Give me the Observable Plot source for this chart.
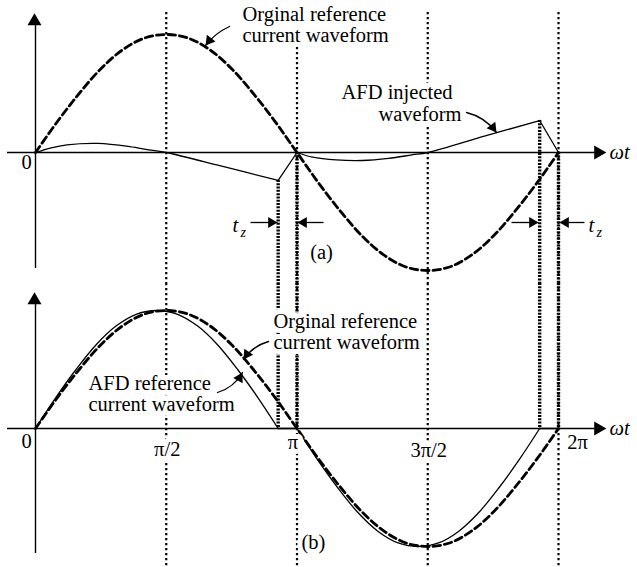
<!DOCTYPE html>
<html>
<head>
<meta charset="utf-8">
<script src="https://cdn.jsdelivr.net/npm/d3@7"></script>
<script src="https://cdn.jsdelivr.net/npm/@observablehq/plot@0.6"></script>
<style>
  body { margin: 0; background: #fff; }
  #chart svg { display: block; }
</style>
</head>
<body>
<div id="chart"></div>
<script>
// ---------------- data (x in units of π, y normalised amplitude) ----------------
const origX = [0, 0.083, 0.167, 0.25, 0.333, 0.417, 0.5, 0.583, 0.667, 0.75, 0.833, 0.917, 1,
               1.083, 1.167, 1.25, 1.333, 1.417, 1.5, 1.583, 1.667, 1.75, 1.833, 1.917, 2];
const origY = [0, 0.26, 0.5, 0.71, 0.87, 0.97, 1, 0.97, 0.87, 0.71, 0.5, 0.26, 0,
               -0.26, -0.5, -0.71, -0.87, -0.97, -1, -0.97, -0.87, -0.71, -0.5, -0.26, 0];

// AFD reference current waveform (panel b)
const afdX = [0, 0.077, 0.155, 0.232, 0.309, 0.387, 0.464, 0.541, 0.619, 0.696, 0.773, 0.851, 0.928, 1,
              1.077, 1.155, 1.232, 1.309, 1.387, 1.464, 1.541, 1.619, 1.696, 1.773, 1.851, 1.928, 2];
const afdY = [0, 0.26, 0.5, 0.71, 0.87, 0.97, 1, 0.97, 0.87, 0.71, 0.5, 0.26, 0, 0,
              -0.26, -0.5, -0.71, -0.87, -0.97, -1, -0.97, -0.87, -0.71, -0.5, -0.26, 0, 0];

// AFD injected waveform (panel a)
const injX = [0, 0.06, 0.12, 0.24, 0.36, 0.44, 0.5, 0.72, 0.928, 1,
              1.06, 1.15, 1.25, 1.35, 1.44, 1.5, 1.72, 1.928, 2];
const injY = [0, 0.04, 0.065, 0.077, 0.05, 0.02, 0, -0.12, -0.237, 0,
              -0.04, -0.063, -0.068, -0.05, -0.02, 0, 0.14, 0.271, 0];

const kinkX  = [0.928, 1, 1.928];          // corners of the AFD waveforms
const tzX    = [0.928, 1, 1.928, 2];       // dead-zone (t_z) boundaries
const guideX = [0.5, 1, 1.5, 2];           // dotted guides
const tickVals = [0, 0.5, 1, 1.5, 2];
const tickText = ["0", "π/2", "π", "3π/2", "2π"];

// ---------------- layout ----------------
const W = 637, X0 = 35, PX_PER_PI = 261.5, PX_PER_UNIT = 118;
const xDomain = [-X0 / PX_PER_PI, (W - X0) / PX_PER_PI];
const A = {top: 0, height: 283, zero: 152};
const B = {top: 283, height: 284, zero: 428};
const ux = px => (px - X0) / PX_PER_PI;
const vy = (P, py) => (P.zero - py) / PX_PER_UNIT;
const yDom = P => [vy(P, P.top + P.height), vy(P, P.top)];
const FONT = "'Liberation Serif', 'Times New Roman', serif";
const FS = 20.5;
const AXIS_TIP = 606;

const tickDx = [-9, 1, -4, 1, 19];
const tickDy = [19, 27, 20, 28, 20];

function seriesRows(xs, ys, kinks) {
  const rows = []; let seg = 0;
  xs.forEach((x, i) => {
    rows.push({x, y: ys[i], seg});
    if (kinks.some(k => Math.abs(k - x) < 1e-9)) { seg += 1; rows.push({x, y: ys[i], seg}); }
  });
  return rows;
}
const origRows = seriesRows(origX, origY, []);
const afdRows = seriesRows(afdX, afdY, kinkX);
const injRows = seriesRows(injX, injY, kinkX);

function headAt(P, tipX, tipY, ang, r) {
  const k = Math.sqrt(r * r * Math.PI / (3 * Math.sqrt(3)));
  const a = ang * Math.PI / 180;
  return {x: ux(tipX - 2 * k * Math.cos(a)), y: vy(P, tipY - 2 * k * Math.sin(a)), rotate: ang + 90};
}

function labelMark(P, items, extra = {}) {
  return Plot.text(items.map(d => ({x: ux(d.px), y: vy(P, d.py), text: d.t})), {
    x: "x", y: "y", text: "text", lineAnchor: "bottom", lineHeight: 1,
    fontFamily: FONT, fontSize: FS, fill: "black",
    stroke: "white", strokeWidth: 10, strokeLinejoin: "round", paintOrder: "stroke",
    ...extra
  });
}

function pointerMarks(P, list) {
  const marks = [];
  const heads = [];
  for (const d of list) {
    marks.push(Plot.arrow([{x1: ux(d.x1), y1: vy(P, d.y1), x2: ux(d.x2), y2: vy(P, d.y2)}], {
      x1: "x1", y1: "y1", x2: "x2", y2: "y2", bend: d.bend, headLength: 0,
      stroke: "black", strokeWidth: 1.3
    }));
    const ang = Math.atan2(d.y2 - d.y1, d.x2 - d.x1) * 180 / Math.PI + d.bend;
    heads.push(headAt(P, d.x2, d.y2, ang, 4));
  }
  marks.push(Plot.dot(heads, {x: "x", y: "y", rotate: "rotate", r: 4, symbol: "triangle", fill: "black"}));
  return marks;
}

function axisMarks(P, yBottom, yTip) {
  return [
    Plot.ruleY([0], {x1: ux(7), x2: ux(AXIS_TIP - 10), stroke: "black", strokeWidth: 1.4}),
    Plot.ruleX([0], {y1: vy(P, yBottom), y2: vy(P, yTip + 8), stroke: "black", strokeWidth: 1.4}),
    Plot.dot([headAt(P, AXIS_TIP, P.zero, 0, 5.3), headAt(P, X0 - 1, yTip, -90, 5)],
      {x: "x", y: "y", rotate: "rotate", r: 5.2, symbol: "triangle", fill: "black"})
  ];
}

const common = {
  width: W, margin: 0,
  x: {domain: xDomain, axis: null},
  style: {background: "white", overflow: "visible", fontFamily: FONT}
};

const guideStyle = {stroke: "black", strokeWidth: 2.2, strokeDasharray: "2.2,2.8"};
const tzStyle = {stroke: "black", strokeWidth: 3.4, strokeDasharray: "2,1.3"};

// ---------------- panel (a) ----------------
const tzStart = tzX.map(x => injY[injX.findIndex(v => Math.abs(v - x) < 1e-9)]);
const yA = 222;
const tzArrows = [{x1: 250, x2: 277}, {x1: 323, x2: 297}, {x1: 511, x2: 538}, {x1: 584, x2: 559}];

const plotA = Plot.plot({
  ...common,
  height: A.height,
  y: {domain: yDom(A), axis: null},
  marks: [
    Plot.ruleX(guideX, {y1: vy(A, 12), y2: yDom(A)[0], ...guideStyle}),
    Plot.ruleX(tzX.map((x, i) => ({x, y1: tzStart[i]})), {x: "x", y1: "y1", y2: yDom(A)[0], ...tzStyle}),
    Plot.line(origRows, {x: "x", y: "y", z: "seg", curve: "catmull-rom", stroke: "black", strokeWidth: 2.8, strokeDasharray: "7.5,4"}),
    Plot.line(injRows, {x: "x", y: "y", z: "seg", curve: "catmull-rom", stroke: "black", strokeWidth: 1.3}),
    labelMark(A, [
      {t: "Orginal reference\ncurrent waveform", px: 242, py: 41},
      {t: "AFD injected", px: 341, py: 98}
    ], {textAnchor: "start"}),
    labelMark(A, [{t: "waveform", px: 461, py: 120}], {textAnchor: "end"}),
    labelMark(A, [{t: "(a)", px: 321, py: 258}, {t: tickText[0], px: X0 + tickDx[0], py: A.zero + 16}], {textAnchor: "middle"}),
    labelMark(A, [{t: "t", px: 232, py: 231}, {t: "t", px: 588, py: 231}, {t: "ωt", px: AXIS_TIP + 3, py: 158}],
      {textAnchor: "start", fontStyle: "italic"}),
    labelMark(A, [{t: "z", px: 240, py: 236}, {t: "z", px: 596, py: 236}],
      {textAnchor: "start", fontStyle: "italic", fontSize: 14, strokeWidth: 4}),
    ...axisMarks(A, 268, 13),
    Plot.link(tzArrows.map(d => ({x1: ux(d.x1), x2: ux(d.x2), y: vy(A, yA)})),
      {x1: "x1", x2: "x2", y1: "y", y2: "y", stroke: "black", strokeWidth: 1.3}),
    Plot.dot(tzArrows.map(d => headAt(A, d.x2, yA, d.x2 > d.x1 ? 0 : 180, 4)),
      {x: "x", y: "y", rotate: "rotate", r: 4, symbol: "triangle", fill: "black"}),
    ...pointerMarks(A, [
      {x1: 229, y1: 26, x2: 205, y2: 45, bend: -14},
      {x1: 466, y1: 112, x2: 496, y2: 132, bend: 20}
    ])
  ]
});

// ---------------- panel (b) ----------------
const plotB = Plot.plot({
  ...common,
  height: B.height,
  y: {domain: yDom(B), axis: null},
  marks: [
    Plot.ruleX(guideX, {y1: yDom(B)[1], y2: yDom(B)[0], ...guideStyle}),
    Plot.ruleX(tzX, {y1: yDom(B)[1], y2: 0, ...tzStyle}),
    Plot.line(afdRows, {x: "x", y: "y", z: "seg", curve: "catmull-rom", stroke: "black", strokeWidth: 1.3}),
    Plot.line(origRows, {x: "x", y: "y", z: "seg", curve: "catmull-rom", stroke: "black", strokeWidth: 2.8, strokeDasharray: "7.5,4"}),
    labelMark(B, [
      {t: "Orginal reference\ncurrent waveform", px: 273, py: 348},
      {t: "AFD reference\ncurrent waveform", px: 88, py: 410}
    ], {textAnchor: "start"}),
    labelMark(B, [{t: "(b)", px: 313, py: 548}], {textAnchor: "middle"}),
    ...tickVals.map((v, i) => labelMark(B,
      [{t: tickText[i], px: X0 + v * PX_PER_PI + tickDx[i], py: B.zero + tickDy[i]}], {textAnchor: "middle"})),
    labelMark(B, [{t: "ωt", px: AXIS_TIP + 3, py: 434}], {textAnchor: "start", fontStyle: "italic"}),
    ...axisMarks(B, 553, 292),
    ...pointerMarks(B, [
      {x1: 268, y1: 341, x2: 243, y2: 359, bend: -20},
      {x1: 217, y1: 392, x2: 242, y2: 372, bend: -22}
    ])
  ]
});

const chart = document.getElementById("chart");
chart.append(plotA, plotB);
</script>
</body>
</html>
